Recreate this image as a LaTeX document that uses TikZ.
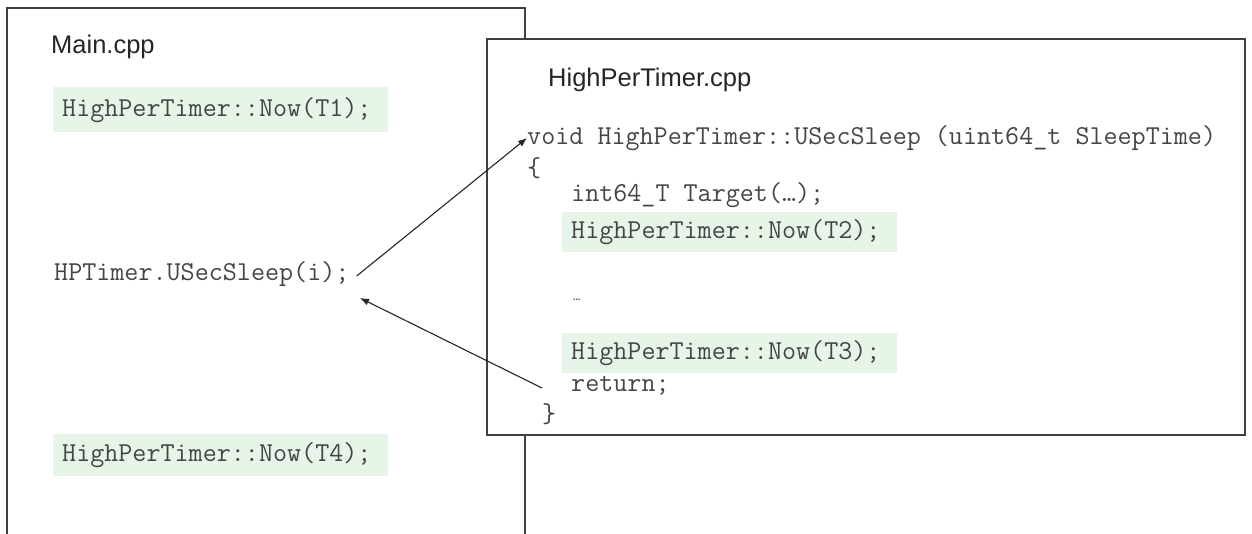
\documentclass[tikz,border=0pt]{standalone}
\usepackage{fontspec}
\setmainfont{Liberation Sans}
\setsansfont{Liberation Sans}
\usetikzlibrary{arrows.meta}
\definecolor{boxline}{HTML}{404040}
\definecolor{codegreen}{HTML}{E6F5E8}
\definecolor{codetext}{HTML}{454545}
\tikzset{
  x=1pt, y=-1pt,
  filebox/.style={draw=boxline, line width=1.5pt, fill=white},
  title/.style={font=\fontsize{25.5}{25.5}\selectfont\sffamily, text=black!85, anchor=west, inner sep=0pt},
  code/.style={font=\fontsize{27.3}{27.3}\selectfont\ttfamily, text=codetext, anchor=west, inner sep=1pt},
  greencode/.style={code, fill=codegreen, anchor=north west, minimum height=42pt, text width=317pt, inner xsep=9pt, inner ysep=0pt, align=left},
  callarrow/.style={-{Latex[length=9pt,width=7pt]}, line width=1.1pt, black!85}
}
\begin{document}
\begin{tikzpicture}
\useasboundingbox (0,0) rectangle (1252,533);
\fill[white] (0,0) rectangle (1252,533);
% Main.cpp box (open at bottom)
\draw[filebox] (7,540) -- (7,8) -- (525,8) -- (525,540);
\node[title] (maintitle) at (51,47) {Main.cpp};
\node[greencode, minimum height=45pt] (t1) at (53,87) {HighPerTimer::Now(T1);};
\node[code] (sleep) at (53,274) {HPTimer.USecSleep(i);};
\node[greencode] (t4) at (53,434) {HighPerTimer::Now(T4);};
% HighPerTimer.cpp box
\draw[filebox] (487,39) rectangle (1245,435);
\node[title] (hptitle) at (548,80) {HighPerTimer.cpp};
\node[code] (void) at (526,138) {void HighPerTimer::USecSleep (uint64\_t SleepTime)};
\node[code] (lbrace) at (526,168) {\{};
\node[code] (target) at (570,195) {int64\_T Target(…);};
\node[greencode, minimum height=40pt] (t2) at (562,212) {HighPerTimer::Now(T2);};
\node[code, font=\fontsize{14}{14}\selectfont\ttfamily] (dots) at (572,300) {…};
\node[greencode, minimum height=40pt] (t3) at (562,333) {HighPerTimer::Now(T3);};
\node[code] (ret) at (570,386) {return;};
\node[code] (rbrace) at (541,414) {\}};
% arrows
\coordinate (retfrom) at (542,388);
\coordinate (sleepback) at (360,298);
\draw[callarrow] ([xshift=6pt,yshift=-2pt]sleep.east) -- ([xshift=1pt]void.west);
\draw[callarrow] (retfrom) -- (sleepback);
\end{tikzpicture}
\end{document}
